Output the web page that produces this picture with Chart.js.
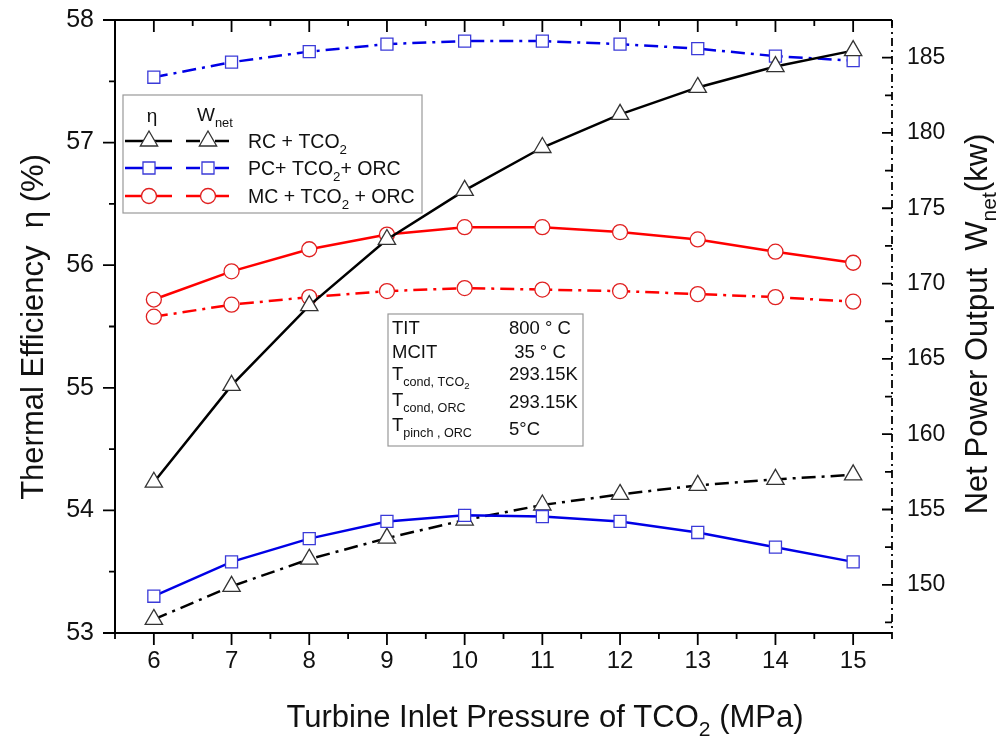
<!DOCTYPE html>
<html>
<head>
<meta charset="utf-8">
<script src="https://cdn.jsdelivr.net/npm/chart.js@4.4.1/dist/chart.umd.min.js"></script>
<style>
    html, body { margin: 0; padding: 0; background: #fff; }
</style>
</head>
<body>
<canvas id="lineChart" width="999" height="739"></canvas>
<script>
// Turbine inlet pressure of TCO2 (MPa)
var pressure = [6, 7, 8, 9, 10, 11, 12, 13, 14, 15];

// Thermal efficiency (%) - left axis, solid lines
var etaRC = [54.23, 55.02, 55.67, 56.21, 56.61, 56.96, 57.23, 57.45, 57.62, 57.75];
var etaPC = [53.30, 53.58, 53.77, 53.91, 53.96, 53.95, 53.91, 53.82, 53.70, 53.58];
var etaMC = [55.72, 55.95, 56.13, 56.25, 56.31, 56.31, 56.27, 56.21, 56.11, 56.02];

// Net power output (kW) - right axis, dash-dot lines
var wRC = [147.7, 149.9, 151.7, 153.1, 154.3, 155.3, 156.0, 156.6, 157.0, 157.3];
var wPC = [183.7, 184.7, 185.4, 185.9, 186.1, 186.1, 185.9, 185.6, 185.1, 184.8];
var wMC = [167.8, 168.6, 169.1, 169.5, 169.7, 169.6, 169.5, 169.3, 169.1, 168.8];

// tick labels
var xTicks = [6, 7, 8, 9, 10, 11, 12, 13, 14, 15];
var etaTicks = [53, 54, 55, 56, 57, 58];
var wTicks = [150, 155, 160, 165, 170, 175, 180, 185];

// legend names, [text, subscript level]
var cycleNames = [
    [["RC + TCO", 0], ["2", 1]],
    [["PC+ TCO", 0], ["2", 1], ["+ ORC", 0]],
    [["MC + TCO", 0], ["2", 1], [" + ORC", 0]]
];

// operating conditions box
var condLabels = [
    [["TIT", 0]],
    [["MCIT", 0]],
    [["T", 0], ["cond, TCO", 1], ["2", 2]],
    [["T", 0], ["cond, ORC", 1]],
    [["T", 0], ["pinch , ORC", 1]]
];
var condValues = ["800 \u00b0 C", " 35 \u00b0 C", "293.15K", "293.15K", "5\u00b0C"];

var FONT = '"Liberation Sans", Arial, sans-serif';
var DASHDOT = [14, 6, 3, 6];

function pts(ys) {
    return pressure.map(function (p, i) { return { x: p, y: ys[i] }; });
}

function fontFor(size, level) {
    var s = level === 0 ? size : (level === 1 ? size * 0.68 : size * 0.52);
    return s.toFixed(1) + "px " + FONT;
}

function richWidth(ctx, parts, size) {
    var w = 0;
    parts.forEach(function (p) {
        ctx.font = fontFor(size, p[1]);
        w += ctx.measureText(p[0]).width;
    });
    return w;
}

function drawRich(ctx, parts, x, y, size, center) {
    var cx = center ? x - richWidth(ctx, parts, size) / 2 : x;
    parts.forEach(function (p) {
        ctx.font = fontFor(size, p[1]);
        var dy = p[1] === 1 ? size * 0.3 : (p[1] === 2 ? size * 0.5 : 0);
        ctx.fillText(p[0], cx, y + dy);
        cx += ctx.measureText(p[0]).width;
    });
}

function series(label, data, axis, color, dash, style, radius, markerColor) {
    return {
        label: label,
        data: pts(data),
        yAxisID: axis,
        borderColor: color,
        borderWidth: 2.5,
        borderDash: dash,
        backgroundColor: "#fff",
        pointStyle: style,
        pointRadius: radius,
        pointBackgroundColor: "#fff",
        pointBorderColor: markerColor,
        pointBorderWidth: 1.3,
        tension: 0,
        fill: false
    };
}

// fix the axis box sizes so the plot area sits where the reference has it
function fitY(width) {
    return function (s) {
        s.width = width;
        s.paddingTop = 0;
        s.paddingBottom = 0;
    };
}

// axis frame, minor ticks, titles, legend and the conditions box
var decorations = {
    id: "decorations",
    beforeDatasetsDraw: function (chart) {
        var ctx = chart.ctx, a = chart.chartArea;
        var sx = chart.scales.x, sy = chart.scales.y, sw = chart.scales.y1;
        ctx.save();
        ctx.strokeStyle = "#000";
        ctx.lineWidth = 2;
        ctx.beginPath();
        ctx.moveTo(a.left, a.top); ctx.lineTo(a.left, a.bottom);
        ctx.moveTo(a.left - 1, a.bottom); ctx.lineTo(a.right, a.bottom);
        ctx.moveTo(a.left - 1, a.top); ctx.lineTo(a.right, a.top);
        ctx.stroke();
        ctx.lineWidth = 1.8;
        ctx.beginPath();
        var v, p, len;
        for (v = 5.5; v <= 15.5; v += 0.5) {
            p = sx.getPixelForValue(v);
            len = (v % 1 === 0) ? 12 : 6;
            ctx.moveTo(p, a.bottom); ctx.lineTo(p, a.bottom + len);
            ctx.moveTo(p, a.top); ctx.lineTo(p, a.top + len);
        }
        for (v = 53; v <= 58; v += 0.5) {
            p = sy.getPixelForValue(v);
            len = (v % 1 === 0) ? 12 : 6;
            ctx.moveTo(a.left, p); ctx.lineTo(a.left - len, p);
        }
        for (v = 147.5; v <= 187.5; v += 2.5) {
            p = sw.getPixelForValue(v);
            len = (v % 5 === 0) ? 10 : 7;
            ctx.moveTo(a.right, p); ctx.lineTo(a.right - len, p);
        }
        ctx.stroke();
        // right axis in dash-dot
        ctx.setLineDash([8, 4, 2, 4]);
        ctx.beginPath();
        ctx.moveTo(a.right, a.top); ctx.lineTo(a.right, a.bottom);
        ctx.stroke();
        ctx.restore();
    },
    afterDraw: function (chart) {
        var ctx = chart.ctx;
        ctx.save();
        ctx.fillStyle = "#111";
        ctx.textBaseline = "alphabetic";

        // axis titles
        drawRich(ctx, [["Turbine Inlet Pressure of TCO", 0], ["2", 1], [" (MPa)", 0]], 545, 727, 31, true);
        ctx.save();
        ctx.translate(43, 327);
        ctx.rotate(-Math.PI / 2);
        drawRich(ctx, [["Thermal Efficiency  \u03b7 (%)", 0]], 0, 0, 31, true);
        ctx.restore();
        ctx.save();
        ctx.translate(987, 324);
        ctx.rotate(-Math.PI / 2);
        drawRich(ctx, [["Net Power Output  W", 0], ["net", 1], ["(kw)", 0]], 0, 0, 31, true);
        ctx.restore();

        // legend
        ctx.fillStyle = "#fff";
        ctx.fillRect(123, 95, 299, 118);
        ctx.strokeStyle = "#999";
        ctx.lineWidth = 1.2;
        ctx.strokeRect(123, 95, 299, 118);
        ctx.fillStyle = "#111";
        drawRich(ctx, [["\u03b7", 0]], 152, 122, 19, true);
        drawRich(ctx, [["W", 0], ["net", 1]], 197, 121, 19, false);
        var ds = chart.data.datasets;
        [141, 168, 196].forEach(function (ly, i) {
            var solid = ds[i], dashed = ds[i + 3];
            [[solid, 125, 172, 149], [dashed, 186, 233, 208]].forEach(function (s) {
                var d = s[0];
                ctx.save();
                ctx.strokeStyle = d.borderColor;
                ctx.lineWidth = d.borderWidth;
                ctx.setLineDash(d.borderDash);
                ctx.beginPath();
                ctx.moveTo(s[1], ly); ctx.lineTo(s[2], ly);
                ctx.stroke();
                ctx.setLineDash([]);
                ctx.fillStyle = "#fff";
                ctx.strokeStyle = d.pointBorderColor;
                ctx.lineWidth = d.pointBorderWidth;
                Chart.helpers.drawPoint(ctx, { pointStyle: d.pointStyle, radius: d.pointRadius, rotation: 0, borderWidth: d.pointBorderWidth }, s[3], ly);
                ctx.restore();
            });
            ctx.fillStyle = "#111";
            drawRich(ctx, cycleNames[i], 248, ly + 7, 19.5, false);
        });

        // conditions box
        ctx.fillStyle = "#fff";
        ctx.fillRect(388, 314, 195, 132);
        ctx.strokeStyle = "#999";
        ctx.strokeRect(388, 314, 195, 132);
        ctx.fillStyle = "#111";
        var rowY = [334, 358, 380, 406, 431];
        var valY = [334, 358, 380, 408, 435];
        condLabels.forEach(function (parts, i) {
            drawRich(ctx, parts, 392, rowY[i], 18.5, false);
            drawRich(ctx, [[condValues[i], 0]], 509, valY[i], 18.5, false);
        });
        ctx.restore();
    }
};

var ctxLine = document.getElementById("lineChart").getContext("2d");
var lineChart = new Chart(ctxLine, {
    type: "line",
    data: {
        datasets: [
            series("RC + TCO2 (eta)", etaRC, "y", "#000", [], "triangle", 10, "#333"),
            series("PC+ TCO2+ ORC (eta)", etaPC, "y", "#0000e6", [], "rect", 8.5, "#3a3ad8"),
            series("MC + TCO2 + ORC (eta)", etaMC, "y", "#ff0000", [], "circle", 7.5, "#e02020"),
            series("RC + TCO2 (Wnet)", wRC, "y1", "#000", DASHDOT, "triangle", 10, "#333"),
            series("PC+ TCO2+ ORC (Wnet)", wPC, "y1", "#0000e6", DASHDOT, "rect", 8.5, "#3a3ad8"),
            series("MC + TCO2 + ORC (Wnet)", wMC, "y1", "#ff0000", DASHDOT, "circle", 7.5, "#e02020")
        ]
    },
    options: {
        responsive: false,
        animation: false,
        layout: { padding: { top: 20, left: 0, right: 0, bottom: 0 } },
        plugins: { legend: { display: false }, tooltip: { enabled: false } },
        scales: {
            x: {
                type: "linear",
                min: 5.5,
                max: 15.5,
                grid: { display: false, drawTicks: false },
                border: { display: false },
                afterBuildTicks: function (s) { s.ticks = xTicks.map(function (v) { return { value: v }; }); },
                afterFit: function (s) { s.height = 106; },
                ticks: { color: "#111", padding: 14, font: { size: 24, family: FONT } }
            },
            y: {
                position: "left",
                min: 53,
                max: 58,
                grid: { display: false, drawTicks: false },
                border: { display: false },
                afterBuildTicks: function (s) { s.ticks = etaTicks.map(function (v) { return { value: v }; }); },
                afterFit: fitY(115),
                ticks: { color: "#111", padding: 21, font: { size: 25, family: FONT } }
            },
            y1: {
                position: "right",
                min: 146.8,
                max: 187.5,
                grid: { display: false, drawTicks: false },
                border: { display: false },
                afterBuildTicks: function (s) { s.ticks = wTicks.map(function (v) { return { value: v }; }); },
                afterFit: fitY(107),
                ticks: { color: "#111", padding: 15, font: { size: 23, family: FONT } }
            }
        }
    },
    plugins: [decorations]
});
</script>
</body>
</html>
